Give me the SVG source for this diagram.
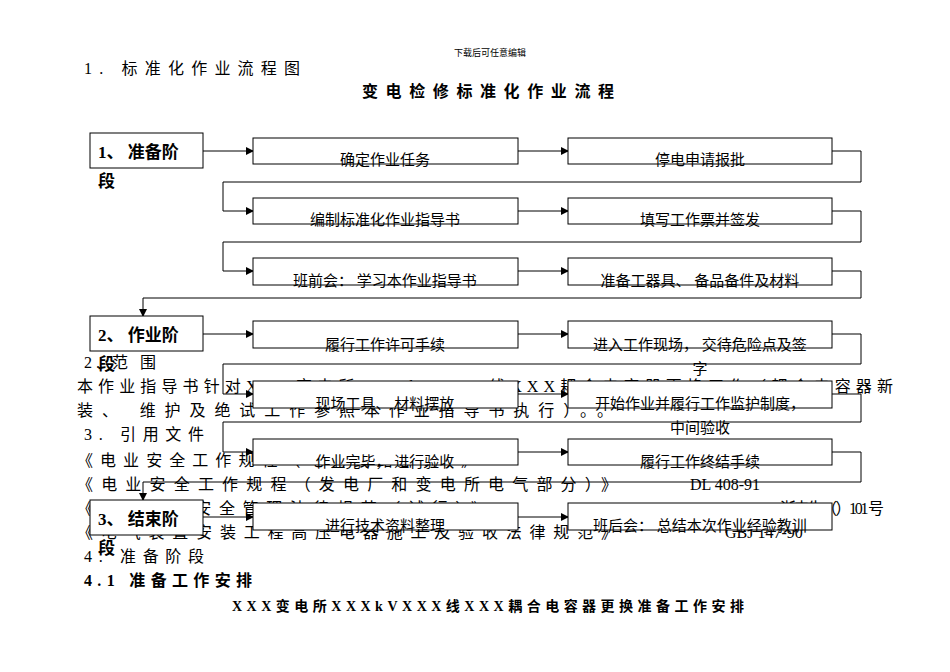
<svg xmlns="http://www.w3.org/2000/svg" width="950" height="672" viewBox="0 0 950 672">
<style>
text{font-family:"Liberation Serif","Noto Sans CJK SC",serif;fill:#000}
.p{font-size:16px}
.b{fill:#fff;stroke:#000;stroke-width:1}
.l{font-size:15px;text-anchor:middle}
.s{font-size:17px;font-weight:bold}
.c{fill:none;stroke:#000;stroke-width:1}
</style>
<defs><marker id="a" markerWidth="8" markerHeight="8" refX="7" refY="4" orient="auto" markerUnits="userSpaceOnUse"><path d="M0,0L8,4L0,8z"/></marker></defs>
<rect width="950" height="672" fill="#fff"/>
<text x="490" y="56" font-size="9" text-anchor="middle">下载后可任意编辑</text>
<text class="p" x="84" y="74" textLength="216">1. 标准化作业流程图</text>
<text x="488" y="97" font-size="16" font-weight="bold" text-anchor="middle" textLength="252">变电检修标准化作业流程</text>
<text class="p" x="84" y="368" textLength="72">2. 范 围</text>
<text class="p" x="77" y="392" textLength="816">本作业指导书针对XXX变电所XXXkVXXX线XXX耦合电容器更换工作（耦合电容器新</text>
<text class="p" x="77" y="416" textLength="536">装、 维护及绝试工作参照本作业指导书执行）。。</text>
<text class="p" x="84" y="440" textLength="120">3. 引用文件</text>
<text class="p" x="77" y="466" textLength="400">《电业安全工作规程（电力线路部分）》</text>
<text class="p" x="77" y="490" textLength="540">《电业安全工作规程（发电厂和变电所电气部分）》</text>
<text class="p" x="690" y="490">DL 408-91</text>
<text class="p" x="77" y="514" textLength="410">《电力建设安全管理法律规范（试行）》</text>
<text class="p" x="780" y="514" textLength="104">浙电生（）101 号</text>
<text class="p" x="77" y="538" textLength="540">《电气装置安装工程高压电器施工及验收法律规范》</text>
<text class="p" x="725" y="538">GBJ 147-90</text>
<text class="p" x="84" y="562" textLength="120">4. 准备阶段</text>
<text x="84" y="586" font-size="16" font-weight="bold" textLength="168">4.1 准备工作安排</text>
<text x="488" y="611" font-size="14" font-weight="bold" text-anchor="middle" textLength="512">XXX变电所XXXkVXXX线XXX耦合电容器更换准备工作安排</text>
<g id="connectors">
<path class="c" d="M203,151H253" marker-end="url(#a)"/>
<path class="c" d="M518,151H568" marker-end="url(#a)"/>
<path class="c" d="M832,151H861V182H223V211H253" marker-end="url(#a)"/>
<path class="c" d="M518,211H568" marker-end="url(#a)"/>
<path class="c" d="M832,211H861V242H223V271H253" marker-end="url(#a)"/>
<path class="c" d="M518,271H568" marker-end="url(#a)"/>
<path class="c" d="M832,271H861V298H143V316" marker-end="url(#a)"/>
<path class="c" d="M203,334H253" marker-end="url(#a)"/>
<path class="c" d="M518,334H568" marker-end="url(#a)"/>
<path class="c" d="M832,334H861V364H223V394H253" marker-end="url(#a)"/>
<path class="c" d="M518,394H568" marker-end="url(#a)"/>
<path class="c" d="M832,394H861V422H223V452H253" marker-end="url(#a)"/>
<path class="c" d="M518,452H568" marker-end="url(#a)"/>
<path class="c" d="M832,452H861V482H143V500" marker-end="url(#a)"/>
<path class="c" d="M203,517H253" marker-end="url(#a)"/>
<path class="c" d="M518,517H568" marker-end="url(#a)"/>
</g>
<g id="s1"><rect class="b" x="90" y="133" width="113" height="35"/><text class="s" x="98" y="158">1、 准备阶</text><text class="s" x="98" y="187">段</text></g>
<g id="s2"><rect class="b" x="90" y="316" width="113" height="35"/><text class="s" x="98" y="341">2、 作业阶</text><text class="s" x="98" y="370">段</text></g>
<g id="s3"><rect class="b" x="90" y="500" width="113" height="35"/><text class="s" x="98" y="525">3、 结束阶</text><text class="s" x="98" y="554">段</text></g>
<g id="n1"><rect class="b" x="253" y="138" width="265" height="26"/><text class="l" x="385" y="165">确定作业任务</text></g>
<g id="n2"><rect class="b" x="568" y="138" width="264" height="26"/><text class="l" x="700" y="165">停电申请报批</text></g>
<g id="n3"><rect class="b" x="253" y="198" width="265" height="26"/><text class="l" x="385" y="225">编制标准化作业指导书</text></g>
<g id="n4"><rect class="b" x="568" y="198" width="264" height="26"/><text class="l" x="700" y="225">填写工作票并签发</text></g>
<g id="n5"><rect class="b" x="253" y="258" width="265" height="27"/><text class="l" x="385" y="286">班前会： 学习本作业指导书</text></g>
<g id="n6"><rect class="b" x="568" y="258" width="264" height="27"/><text class="l" x="700" y="286">准备工器具、 备品备件及材料</text></g>
<g id="n7"><rect class="b" x="253" y="321" width="265" height="27"/><text class="l" x="385" y="350">履行工作许可手续</text></g>
<g id="n8"><rect class="b" x="568" y="321" width="264" height="27"/><text class="l" x="700" y="350">进入工作现场， 交待危险点及签</text><text class="l" x="700" y="374">字</text></g>
<g id="n9"><rect class="b" x="253" y="381" width="265" height="27"/><text class="l" x="385" y="409">现场工具、 材料摆放</text></g>
<g id="n10"><rect class="b" x="568" y="381" width="264" height="27"/><text class="l" x="700" y="409">开始作业并履行工作监护制度，</text><text class="l" x="700" y="433">中间验收</text></g>
<g id="n11"><rect class="b" x="253" y="439" width="265" height="26"/><text class="l" x="385" y="467">作业完毕， 进行验收</text></g>
<g id="n12"><rect class="b" x="568" y="439" width="264" height="26"/><text class="l" x="700" y="467">履行工作终结手续</text></g>
<g id="n13"><rect class="b" x="253" y="503" width="265" height="27"/><text class="l" x="385" y="531">进行技术资料整理</text></g>
<g id="n14"><rect class="b" x="568" y="503" width="264" height="27"/><text class="l" x="700" y="531">班后会： 总结本次作业经验教训</text></g>
</svg>
